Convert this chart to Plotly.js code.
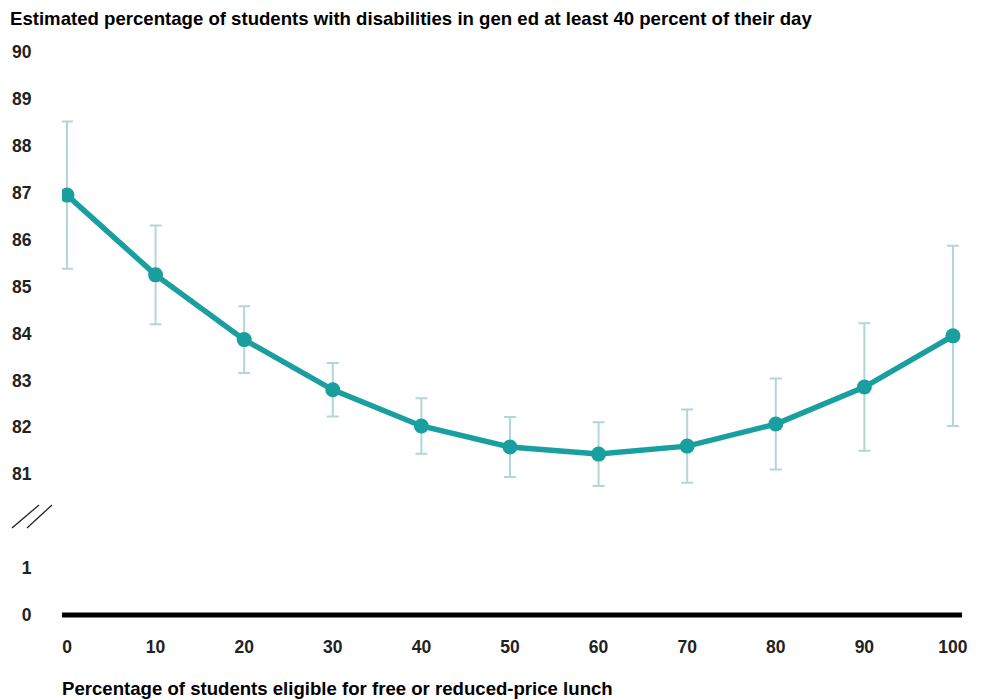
<!DOCTYPE html>
<html>
<head>
<meta charset="utf-8">
<script src="https://cdn.plot.ly/plotly-3.0.1.min.js"></script>
<style>html,body{margin:0;padding:0;background:#fff;}#chart{width:983px;height:700px;}</style>
</head>
<body>
<div id="chart"></div>
<script>
// Data
const lunchPct = [0, 10, 20, 30, 40, 50, 60, 70, 80, 90, 100];
const estimate = [86.95, 85.25, 83.87, 82.80, 82.03, 81.58, 81.43, 81.60, 82.07, 82.86, 83.95];
const margin = [1.57, 1.05, 0.71, 0.57, 0.59, 0.64, 0.68, 0.78, 0.97, 1.36, 1.92];
const yTickVals = [78, 79, 81, 82, 83, 84, 85, 86, 87, 88, 89, 90];
const yTickText = ['0', '1', '81', '82', '83', '84', '85', '86', '87', '88', '89', '90'];
const xTickVals = [0, 10, 20, 30, 40, 50, 60, 70, 80, 90, 100];

const teal = '#1a9fa1';
const errColor = '#b3d6d9';
const font = 'Liberation Sans, Arial, sans-serif';

const trace = {
  x: lunchPct,
  y: estimate,
  type: 'scatter',
  mode: 'lines+markers',
  line: {color: teal, width: 5.5},
  marker: {color: teal, size: 15},
  error_y: {type: 'data', array: margin, visible: true, color: errColor, thickness: 2, width: 6},
  hoverinfo: 'x+y'
};

const layout = {
  width: 983, height: 700,
  margin: {l: 62, r: 21, t: 40, b: 80},
  paper_bgcolor: '#fff', plot_bgcolor: '#fff',
  showlegend: false,
  font: {family: font, color: '#222'},
  xaxis: {
    range: [-0.564, 101.02],
    tickvals: xTickVals,
    ticktext: xTickVals.map(String),
    showgrid: false, zeroline: false, showline: false,
    ticks: 'outside', ticklen: 11, tickcolor: 'rgba(0,0,0,0)',
    tickfont: {family: font, size: 17.5, color: '#222', weight: 'bold'}
  },
  yaxis: {
    range: [77.894, 90.256],
    tickvals: yTickVals,
    ticktext: yTickText,
    showgrid: false, zeroline: false, showline: false,
    ticks: 'outside', ticklen: 26, tickcolor: 'rgba(0,0,0,0)',
    tickfont: {family: font, size: 17.5, color: '#222', weight: 'bold'}
  },
  shapes: [
    {type: 'line', xref: 'paper', yref: 'y', x0: 0, x1: 1, y0: 78, y1: 78, line: {color: '#000', width: 5}, layer: 'below'},
    {type: 'line', xref: 'paper', yref: 'y', x0: (12 - 62) / 900, x1: (39 - 62) / 900, y0: 79.855, y1: 80.345, line: {color: '#222', width: 1.3}},
    {type: 'line', xref: 'paper', yref: 'y', x0: (27 - 62) / 900, x1: (52 - 62) / 900, y0: 79.855, y1: 80.345, line: {color: '#222', width: 1.3}}
  ],
  annotations: [
    {text: 'Estimated percentage of students with disabilities in gen ed at least 40 percent of their day',
     xref: 'paper', yref: 'paper', x: (8 - 62) / 900, y: 1 + (40 - 18) / 580, xanchor: 'left', yanchor: 'middle',
     showarrow: false, font: {family: font, size: 18.6, color: '#000', weight: 'bold'}},
    {text: 'Percentage of students eligible for free or reduced-price lunch',
     xref: 'paper', yref: 'paper', x: -2 / 900, y: -(688 - 620) / 580, xanchor: 'left', yanchor: 'middle',
     showarrow: false, font: {family: font, size: 18.6, color: '#000', weight: 'bold'}}
  ]
};

Plotly.newPlot('chart', [trace], layout, {displayModeBar: false, staticPlot: true});
</script>
</body>
</html>
